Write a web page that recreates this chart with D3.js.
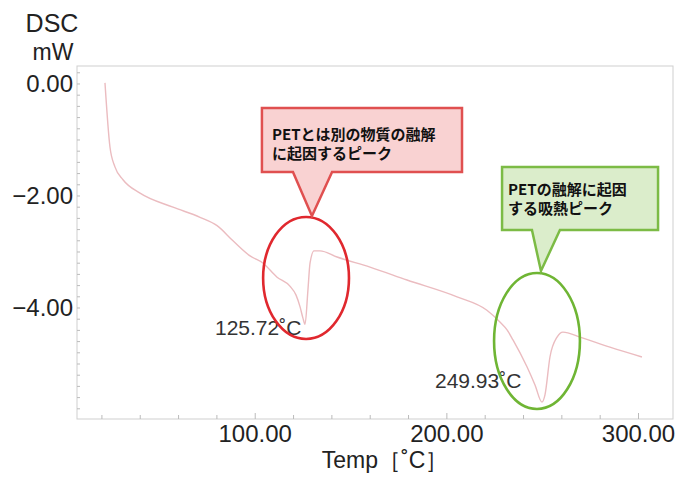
<!DOCTYPE html>
<html>
<head>
<meta charset="utf-8">
<script src="https://cdn.jsdelivr.net/npm/d3@7"></script>
<style>
  body { margin: 0; background: #fff; }
  text { font-family: "Liberation Sans", Arial, sans-serif; }
  .jp { font-family: "Noto Sans CJK JP", sans-serif; font-weight: 700; }
</style>
</head>
<body>
<div id="chart"></div>
<script>
// DSC curve: temperature (°C) and heat flow (mW)
const temps = [21.6, 24.2, 26.8, 31.0, 39.9, 57.1, 71.2, 80.1, 88.4, 97.3, 104.1, 111.4, 118.1, 121.3, 123.4, 124.9, 126.0,
  127.5, 128.6, 130.7, 133.8, 142.7, 159.9, 179.2, 205.3, 220.9, 227.7, 231.4, 234.5, 241.8, 246.0, 249.6,
  251.2, 253.8, 257.5, 260.6, 269.5, 285.1, 301.8];
const dsc = [0.02, -1.125, -1.48, -1.71, -1.95, -2.20, -2.38, -2.53, -2.80, -3.07, -3.20, -3.45, -3.61, -3.77, -3.98, -4.18, -4.29,
  -3.68, -3.20, -2.98, -2.98, -3.09, -3.27, -3.50, -3.80, -4.04, -4.25, -4.39, -4.57, -5.05, -5.375, -5.68,
  -5.55, -4.875, -4.52, -4.43, -4.52, -4.70, -4.875];

const xTicks = [100, 200, 300];
const yTicks = [0, -2, -4];
const peakTemps = [125.72, 249.93];
const peakLabels = ["125.72˚C", "249.93˚C"];
const calloutLines = [
  ["PETとは別の物質の融解", "に起因するピーク"],
  ["PETの融解に起因", "する吸熱ピーク"]
];

const width = 678, height = 477;
const margin = {top: 66, right: 5, bottom: 58, left: 77};

const x = d3.scaleLinear().domain([7, 318]).range([margin.left, width - margin.right]);
const y = d3.scaleLinear().domain([-5.982, 0.321]).range([height - margin.bottom, margin.top]);

const svg = d3.select("#chart").append("svg")
    .attr("width", width)
    .attr("height", height);

// frame
svg.append("rect")
    .attr("x", margin.left).attr("y", margin.top)
    .attr("width", width - margin.left - margin.right)
    .attr("height", height - margin.top - margin.bottom)
    .attr("fill", "none").attr("stroke", "#cfcfcf");

// minor ticks
svg.append("g").selectAll("line")
  .data(d3.range(20, 318, 20))
  .join("line")
    .attr("x1", d => x(d)).attr("x2", d => x(d))
    .attr("y1", y(-5.982)).attr("y2", d => y(-5.982) - (d % 100 === 0 ? 6 : 4))
    .attr("stroke", "#bbb");

svg.append("g").selectAll("line")
  .data(d3.range(-5.8, 0.3, 0.2))
  .join("line")
    .attr("y1", d => y(d)).attr("y2", d => y(d))
    .attr("x1", x(7)).attr("x2", x(7) + 3)
    .attr("stroke", "#bbb");

// tick labels
svg.append("g").selectAll("text")
  .data(xTicks)
  .join("text")
    .attr("x", d => x(d))
    .attr("y", height - margin.bottom + 23)
    .attr("text-anchor", "middle")
    .attr("font-size", 24)
    .attr("fill", "#222")
    .text(d => d.toFixed(2));

svg.append("g").selectAll("text")
  .data(yTicks)
  .join("text")
    .attr("x", margin.left - 4)
    .attr("y", d => y(d))
    .attr("dy", "0.35em")
    .attr("text-anchor", "end")
    .attr("font-size", 24)
    .attr("fill", "#222")
    .text(d => (d < 0 ? "\u2212" : "") + Math.abs(d).toFixed(2));

svg.append("text").attr("x", 52).attr("y", 32).attr("text-anchor", "middle")
    .attr("font-size", 25).attr("fill", "#222").text("DSC");
svg.append("text").attr("x", 53).attr("y", 60).attr("text-anchor", "middle")
    .attr("font-size", 23).attr("fill", "#222").text("mW");
svg.append("text").attr("x", 385).attr("y", 468).attr("text-anchor", "middle")
    .attr("font-size", 23).attr("fill", "#222").text("Temp［˚C］");

// curve
const pts = temps.map((t, i) => [t, dsc[i]]);
svg.append("path")
    .datum(pts)
    .attr("fill", "none")
    .attr("stroke", "#ebbcc0")
    .attr("stroke-width", 1.4)
    .attr("d", d3.line().x(d => x(d[0])).y(d => y(d[1])).curve(d3.curveMonotoneX));

// peak labels
const labelPos = [[79.0, -4.482], [193.8, -5.429]];
svg.append("g").selectAll("text")
  .data(peakLabels)
  .join("text")
    .attr("x", (d, i) => x(labelPos[i][0]))
    .attr("y", (d, i) => y(labelPos[i][1]))
    .attr("font-size", 21)
    .attr("fill", "#333")
    .text(d => d);

// ellipses around the peaks
const rings = [
  {t: peakTemps[0] + 0.8, v: -3.464, rt: 22.4, rv: 1.089, color: "#e0282e"},
  {t: peakTemps[1] - 2.9, v: -4.589, rt: 22.4, rv: 1.214, color: "#6fb534"}
];
svg.append("g").selectAll("ellipse")
  .data(rings)
  .join("ellipse")
    .attr("cx", d => x(d.t))
    .attr("cy", d => y(d.v))
    .attr("rx", d => x(d.rt) - x(0))
    .attr("ry", d => y(0) - y(d.rv))
    .attr("fill", "none")
    .attr("stroke", d => d.color)
    .attr("stroke-width", 2.6);

// callouts
const callouts = [
  {t0: 103.5, t1: 207.9, v0: -0.43, v1: -1.571, b0: 119.7, b1: 140.1, tipT: 129.6, tipV: -2.357,
   fill: "#f9d2d2", stroke: "#e05050", top: 32},
  {t0: 228.8, t1: 310.2, v0: -1.482, v1: -2.607, b0: 244.4, b1: 259.0, tipT: 249.1, tipV: -3.339,
   fill: "#dbedcb", stroke: "#7cbb45", top: 28}
];
callouts.forEach((c, i) => {
  const l = x(c.t0), r = x(c.t1), t = y(c.v0), b = y(c.v1);
  svg.append("path")
      .attr("d", `M${l},${t}H${r}V${b}H${x(c.b1)}L${x(c.tipT)},${y(c.tipV)}L${x(c.b0)},${b}H${l}Z`)
      .attr("fill", c.fill)
      .attr("stroke", c.stroke)
      .attr("stroke-width", 2.5)
      .attr("stroke-linejoin", "miter");
  const txt = svg.append("text").attr("class", "jp")
      .attr("font-size", 15).attr("fill", "#111");
  calloutLines[i].forEach((line, j) => {
    txt.append("tspan")
        .attr("x", l + (i === 0 ? 10 : 6))
        .attr("y", t + c.top + j * 19)
        .text(line);
  });
});
</script>
</body>
</html>
